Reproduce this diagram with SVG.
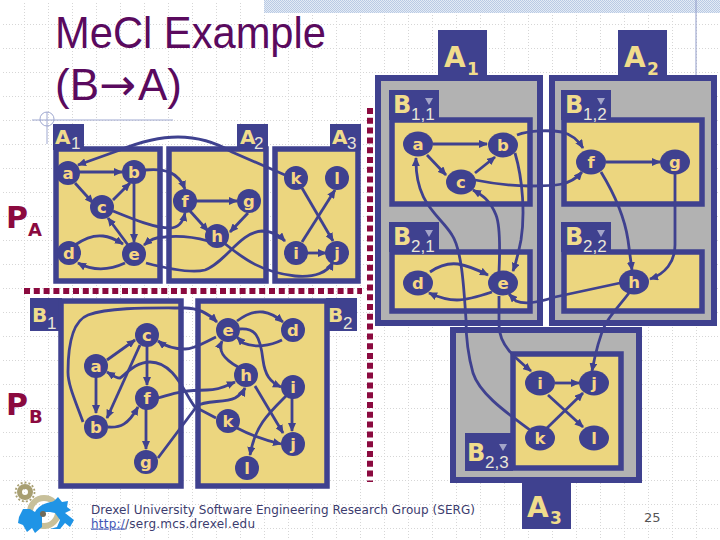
<svg xmlns="http://www.w3.org/2000/svg" width="720" height="540" viewBox="0 0 720 540">
<style>
.box{fill:#ecd67f;stroke:#3f418f;stroke-width:5.5}
.grey{fill:#b2b2b2;stroke:#3f418f;stroke-width:6}
.tab{fill:#3f418f}
.n{fill:#3f418f}
.e{fill:none;stroke:#3f418f;stroke-width:2.8;marker-end:url(#ah)}
text{font-family:"DejaVu Sans","Liberation Sans",sans-serif}
.t{font-size:16.5px;font-weight:bold;fill:#f7d683;text-anchor:middle}
.L{font-size:20px;font-weight:bold;fill:#f0dc8c}
.s{font-size:17px;fill:#e9e6d8;font-family:"Liberation Sans",sans-serif}
.B{font-size:24px;font-weight:bold;fill:#f0dc8c}
.AA{font-size:28px;font-weight:bold;fill:#f0dc8c}
.ss{font-size:17px;font-weight:bold;fill:#f0dc8c}
.P{font-size:30px;font-weight:bold;fill:#8b0a3f}
.P2{font-size:18px;font-weight:bold;fill:#8b0a3f}
.title{font-size:44px;fill:#5a0a5e;font-family:"Liberation Sans",sans-serif}
.arrow{font-family:"DejaVu Sans",sans-serif}
.tri{fill:#a3a4c8}
</style>
<defs>
<marker id="ah" markerUnits="userSpaceOnUse" markerWidth="9" markerHeight="8" refX="8" refY="4" orient="auto"><path d="M0,0L9,4L0,8Z" fill="#3f418f"/></marker>
<pattern id="grid" width="24" height="24" patternUnits="userSpaceOnUse"><path d="M0.5,0V24M0,0.5H24" fill="none" stroke="#d6d6d6" stroke-width="1" stroke-dasharray="1 2"/></pattern>
<pattern id="hatch" width="2" height="2" patternUnits="userSpaceOnUse"><rect width="2" height="2" fill="#e4ebf5"/><path d="M0,0h1v1h-1zM1,1h1v1h-1z" fill="#b9cae4"/></pattern>
</defs>
<rect width="720" height="540" fill="#fff"/>
<rect x="1" y="1" width="719" height="539" fill="url(#grid)"/>
<rect x="264" y="0" width="456" height="13" fill="url(#hatch)"/>
<path d="M696,0V75" stroke="#8f9ac8" stroke-width="1"/>
<g id="title"><text class="title" x="55" y="48" textLength="271" lengthAdjust="spacingAndGlyphs">MeCl Example</text><text class="title" x="55" y="100">(B<tspan class="arrow">→</tspan><tspan dx="2">A)</tspan></text></g>
<g id="deco" fill="none" stroke="#9fa8d0" stroke-width="1"><path d="M32,120H173M47,112V144"/><circle cx="47" cy="119" r="7"/></g>

<g id="separator" fill="none" stroke="#8b0a3f" stroke-width="6" stroke-dasharray="6 3.8"><path d="M24,291H362"/><path d="M370,108V482"/></g>

<g id="panels-a">
<rect class="tab" x="53" y="124" width="31" height="26"/><rect class="tab" x="237" y="124" width="31" height="26"/><rect class="tab" x="330" y="124" width="31" height="26"/>
<rect class="box" x="56" y="149" width="104" height="132"/><rect class="box" x="169" y="149" width="97" height="132"/><rect class="box" x="275" y="149" width="83" height="132"/>
</g>
<g id="panels-b">
<rect class="tab" x="30" y="298" width="32" height="33"/><rect class="tab" x="326" y="298" width="31" height="33"/>
<rect class="box" x="61" y="301" width="120" height="185"/><rect class="box" x="198" y="301" width="129" height="185"/>
</g>
<g id="panels-right">
<rect class="tab" x="438" y="30" width="49" height="48"/><rect class="tab" x="618" y="30" width="49" height="48"/>
<rect class="tab" x="522" y="478" width="49" height="51"/>
<rect class="grey" x="453" y="330" width="186" height="150"/>
<rect class="grey" x="378" y="78" width="162" height="245"/><rect class="grey" x="552" y="78" width="162" height="245"/>
<rect x="543" y="75" width="6" height="252" fill="#fff"/>
<rect class="tab" x="389" y="90" width="50" height="30"/><rect class="tab" x="561" y="90" width="50" height="30"/><rect class="tab" x="389" y="222" width="50" height="30"/><rect class="tab" x="561" y="222" width="50" height="30"/><rect class="tab" x="465" y="433" width="48" height="38"/>
<rect class="box" x="392" y="120" width="138" height="84"/><rect class="box" x="564" y="120" width="138" height="84"/>
<rect class="box" x="392" y="252" width="138" height="59"/><rect class="box" x="564" y="252" width="138" height="59"/>
<rect class="box" x="513" y="354" width="108" height="114"/>
<path class="tri" d="M425,98h8l-4,7zM597,98h8l-4,7zM425,230h8l-4,7zM597,230h8l-4,7zM499,444h8l-4,7z"/>
</g>

<g id="connectors">
<path class="e" d="M68,172H122"/><path class="e" d="M75,183L93,203"/><path class="e" d="M113,200L130,183"/><path class="e" d="M134,180V242"/><path class="e" d="M128,245L108,218"/>
<path class="e" d="M75,245C85,238 95,235 103,236C112,237 118,241 123,244"/><path class="e" d="M125,263C110,270 95,272 78,263"/>
<path class="e" d="M145,170C165,168 178,172 185,189"/><path class="e" d="M113,211C135,220 155,228 170,228C178,228 183,222 185,213"/>
<path class="e" d="M195,201H237"/><path class="e" d="M190,211L208,231"/><path class="e" d="M248,213L230,232"/>
<path class="e" d="M208,241C190,236 175,236 165,237C155,237 150,240 144,245"/>
<path class="e" d="M224,243C245,260 262,272 295,276C315,278 328,272 333,262"/>
<path class="e" d="M146,263C165,268 190,274 205,270C225,263 240,232 262,231C272,231 280,236 285,241"/>
<path class="e" d="M296,253H326"/><path class="e" d="M302,242L335,190"/><path class="e" d="M302,188L333,241"/>
<path class="e" d="M285,175L232,152C215,142 195,137 178,137C160,137 140,142 120,150L78,165"/>

<path class="e" d="M107,360L135,340"/><path class="e" d="M96,373V413"/><path class="e" d="M140,345L107,418"/><path class="e" d="M147,345V385"/><path class="e" d="M146,408V449"/>
<path class="e" d="M108,427C120,428 128,425 138,407"/>
<path class="e" d="M158,398C170,395 180,390 207,390C220,390 228,385 235,382"/>
<path class="e" d="M158,458L197,406C205,400 225,403 235,398C240,395 243,392 245,388"/>
<path class="e" d="M83,422C75,400 68,385 68,372C68,340 75,320 88,315C110,307 150,308 185,308C200,308 210,315 217,322"/>
<path class="e" d="M216,337C205,342 195,349 185,349C175,349 165,346 158,341"/>
<path class="e" d="M216,418L195,407C185,395 175,362 150,362C135,362 125,375 120,378C115,378 112,375 107,372"/>
<path class="e" d="M237,321C245,315 255,311 263,312C270,313 277,317 283,322"/>
<path class="e" d="M282,340C270,346 255,348 243,343L237,337"/>
<path class="e" d="M238,367C222,358 218,350 222,341"/>
<path class="e" d="M240,329C255,328 260,335 263,360C265,375 270,382 281,387"/>
<path class="e" d="M292,398V431"/><path class="e" d="M287,395C270,412 255,425 250,455"/><path class="e" d="M255,386L283,433"/><path class="e" d="M237,428C250,435 265,440 281,444"/>

<path class="e" d="M433,144H487"/><path class="e" d="M427,155L446,175"/><path class="e" d="M475,173L495,157"/>
<path class="e" d="M515,153C523,180 525,215 521,240C519,250 517,260 513,271"/>
<path class="e" d="M499,272C500,250 500,225 496,215C490,200 482,195 473,190"/>
<path class="e" d="M530,430C510,415 480,395 473,373C468,355 466,335 466,320C464,290 462,250 452,235C440,215 415,205 416,158"/>
<path class="e" d="M499,296V325C499,345 515,358 531,371"/>
<path class="e" d="M629,293C620,305 610,315 605,325C598,340 595,355 592,371"/>
<path class="e" d="M601,172C615,195 625,220 628,240L632,270"/>
<path class="e" d="M675,174V245C675,262 665,274 650,279"/>
<path class="e" d="M606,162H660"/>
<path class="e" d="M517,135C530,130 550,130 562,132C570,134 578,140 583,148"/>
<path class="e" d="M475,180C495,184 510,186 530,186C555,186 570,186 582,172"/>
<path class="e" d="M620,283L555,297C540,302 525,305 516,301L509,294"/>
<path class="e" d="M430,272C440,265 450,263 458,264C470,266 480,271 488,275"/>
<path class="e" d="M492,292C480,296 468,300 457,300C447,300 438,297 429,293"/>
<path class="e" d="M555,383H579"/><path class="e" d="M548,395L583,427"/><path class="e" d="M547,428L583,393"/>
</g>

<g id="labels">
<text class="L" x="55" y="144">A</text><text class="s" x="71" y="149">1</text>
<text class="L" x="240" y="144">A</text><text class="s" x="254" y="149">2</text>
<text class="L" x="332" y="144">A</text><text class="s" x="347" y="149">3</text>
<text class="L" x="32" y="322">B</text><text class="s" x="47" y="329">1</text>
<text class="L" x="328" y="322">B</text><text class="s" x="343" y="329">2</text>
<text class="P" x="6" y="228">P</text><text class="P2" x="28" y="236">A</text>
<text class="P" x="6" y="415">P</text><text class="P2" x="29" y="423">B</text>
<text class="AA" x="444" y="67">A</text><text class="ss" x="467" y="75">1</text>
<text class="AA" x="624" y="67">A</text><text class="ss" x="647" y="75">2</text>
<text class="AA" x="527" y="517">A</text><text class="ss" x="550" y="524">3</text>
<text class="B" x="393" y="113">B</text><text class="s" x="411" y="120">1,1</text>
<text class="B" x="565" y="113">B</text><text class="s" x="583" y="120">1,2</text>
<text class="B" x="393" y="245">B</text><text class="s" x="411" y="252">2,1</text>
<text class="B" x="565" y="245">B</text><text class="s" x="583" y="252">2,2</text>
<text class="B" x="467" y="461">B</text><text class="s" x="485" y="468">2,3</text>
</g>

<g id="a-a"><circle class="n" cx="68" cy="173" r="12"/><text class="t" x="68" y="179">a</text></g>
<g id="a-b"><circle class="n" cx="134" cy="172" r="12"/><text class="t" x="134" y="178">b</text></g>
<g id="a-c"><circle class="n" cx="102" cy="207" r="12"/><text class="t" x="102" y="213">c</text></g>
<g id="a-d"><circle class="n" cx="69" cy="253" r="12"/><text class="t" x="69" y="259">d</text></g>
<g id="a-e"><circle class="n" cx="134" cy="254" r="12"/><text class="t" x="134" y="260">e</text></g>
<g id="a-f"><circle class="n" cx="185" cy="201" r="12"/><text class="t" x="185" y="207">f</text></g>
<g id="a-g"><circle class="n" cx="249" cy="201" r="12"/><text class="t" x="249" y="207">g</text></g>
<g id="a-h"><circle class="n" cx="217" cy="236" r="12"/><text class="t" x="217" y="242">h</text></g>
<g id="a-k"><circle class="n" cx="296" cy="178" r="12"/><text class="t" x="296" y="184">k</text></g>
<g id="a-l"><circle class="n" cx="337" cy="178" r="12"/><text class="t" x="337" y="184">l</text></g>
<g id="a-i"><circle class="n" cx="296" cy="253" r="12"/><text class="t" x="296" y="259">i</text></g>
<g id="a-j"><circle class="n" cx="337" cy="253" r="12"/><text class="t" x="337" y="259">j</text></g>

<g id="b-e"><circle class="n" cx="228" cy="330" r="12"/><text class="t" x="228" y="336">e</text></g>
<g id="b-d"><circle class="n" cx="293" cy="330" r="12"/><text class="t" x="293" y="336">d</text></g>
<g id="b-c"><circle class="n" cx="147" cy="335" r="12"/><text class="t" x="147" y="341">c</text></g>
<g id="b-a"><circle class="n" cx="96" cy="366" r="12"/><text class="t" x="96" y="372">a</text></g>
<g id="b-h"><circle class="n" cx="246" cy="375" r="12"/><text class="t" x="246" y="381">h</text></g>
<g id="b-i"><circle class="n" cx="293" cy="387" r="12"/><text class="t" x="293" y="393">i</text></g>
<g id="b-f"><circle class="n" cx="147" cy="398" r="12"/><text class="t" x="147" y="404">f</text></g>
<g id="b-k"><circle class="n" cx="228" cy="421" r="12"/><text class="t" x="228" y="427">k</text></g>
<g id="b-b"><circle class="n" cx="96" cy="427" r="12"/><text class="t" x="96" y="433">b</text></g>
<g id="b-j"><circle class="n" cx="293" cy="444" r="12"/><text class="t" x="293" y="450">j</text></g>
<g id="b-g"><circle class="n" cx="146" cy="462" r="12"/><text class="t" x="146" y="468">g</text></g>
<g id="b-l"><circle class="n" cx="247" cy="468" r="12"/><text class="t" x="247" y="474">l</text></g>

<g id="r-a"><ellipse class="n" cx="418" cy="144" rx="15" ry="12.5"/><text class="t" x="418" y="150">a</text></g>
<g id="r-b"><ellipse class="n" cx="503" cy="145" rx="15" ry="12.5"/><text class="t" x="503" y="151">b</text></g>
<g id="r-c"><ellipse class="n" cx="461" cy="182" rx="15" ry="12.5"/><text class="t" x="461" y="188">c</text></g>
<g id="r-d"><ellipse class="n" cx="418" cy="283" rx="15" ry="12.5"/><text class="t" x="418" y="289">d</text></g>
<g id="r-e"><ellipse class="n" cx="503" cy="283" rx="15" ry="12.5"/><text class="t" x="503" y="289">e</text></g>
<g id="r-f"><ellipse class="n" cx="591" cy="162" rx="15" ry="12.5"/><text class="t" x="591" y="168">f</text></g>
<g id="r-g"><ellipse class="n" cx="675" cy="162" rx="15" ry="12.5"/><text class="t" x="675" y="168">g</text></g>
<g id="r-h"><ellipse class="n" cx="634" cy="282" rx="15" ry="12.5"/><text class="t" x="634" y="288">h</text></g>
<g id="r-i"><ellipse class="n" cx="540" cy="383" rx="15" ry="12.5"/><text class="t" x="540" y="389">i</text></g>
<g id="r-j"><ellipse class="n" cx="594" cy="383" rx="15" ry="12.5"/><text class="t" x="594" y="389">j</text></g>
<g id="r-k"><ellipse class="n" cx="540" cy="438" rx="15" ry="12.5"/><text class="t" x="540" y="444">k</text></g>
<g id="r-l"><ellipse class="n" cx="594" cy="438" rx="15" ry="12.5"/><text class="t" x="594" y="444">l</text></g>

<g id="logo">
<circle cx="25" cy="492" r="5.5" fill="none" stroke="#a89f72" stroke-width="5"/><circle cx="25" cy="492" r="9.5" fill="none" stroke="#a89f72" stroke-width="1.8" stroke-dasharray="2 2"/>
<circle cx="44" cy="512" r="14" fill="none" stroke="#c8c09a" stroke-width="6"/>
<path d="M19,517L23,509L30,509L35,512C40,502 53,503 55,500L58,497L62,502L68,501L67,507L71,510L65,513L74,520L70,527L65,523L60,529L50,529L57,527L60,520L55,513L50,512L45,512L42,517L42,527L35,533L32,528L27,532L23,525L18,523Z" fill="#1f94e6"/>
<circle cx="43" cy="514" r="3" fill="#6e6a5a"/>
</g>
<g id="footer" fill="#3c3c6e" font-size="12"><text x="91" y="514" textLength="384" lengthAdjust="spacing">Drexel University Software Engineering Research Group (SERG)</text>
<text x="91" y="527.5" textLength="164" lengthAdjust="spacing"><tspan fill="#3f55b5" text-decoration="underline">http:/</tspan>/serg.mcs.drexel.edu</text></g>
<text id="pagenum" x="644" y="522" font-size="13" fill="#555" font-family="Liberation Sans">25</text>
</svg>
